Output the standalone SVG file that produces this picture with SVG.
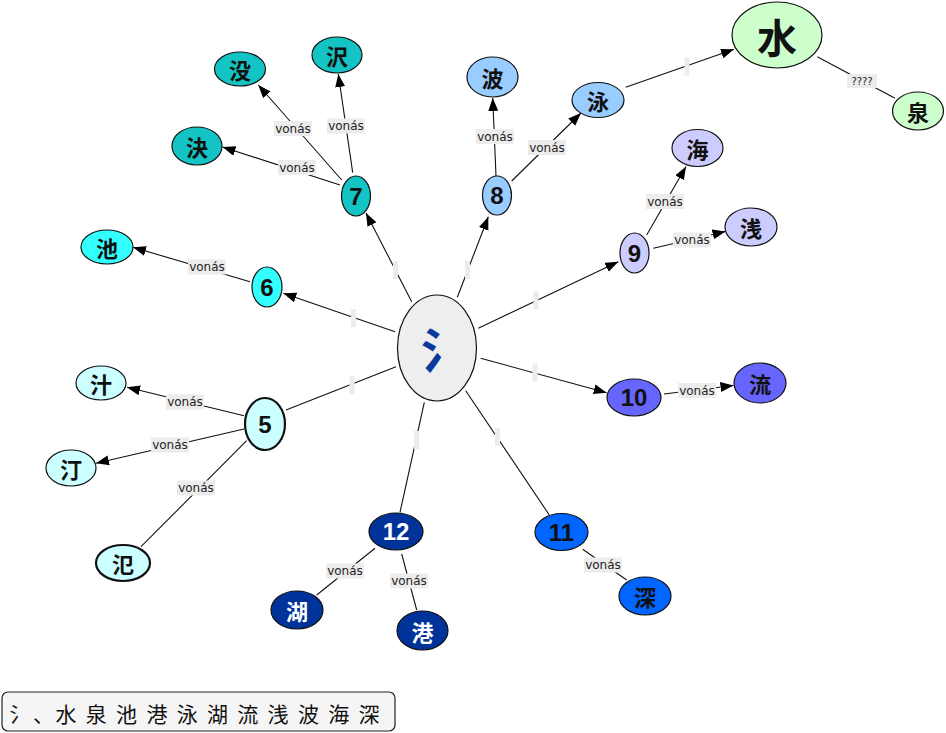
<svg xmlns="http://www.w3.org/2000/svg" width="946" height="733" viewBox="0 0 946 733">
<style>
.n ellipse{stroke:#111;stroke-width:1.2}
.thick ellipse{stroke-width:2.2}
.cjk{font-family:"Noto Sans CJK JP","Noto Sans CJK SC",sans-serif;font-weight:bold;font-size:22px;text-anchor:middle;dominant-baseline:central;fill:#111}
.num{font-family:"Liberation Sans",Arial,sans-serif;font-weight:bold;font-size:24px;text-anchor:middle;dominant-baseline:central;fill:#111}
.w{fill:#fff}
.e line{stroke:#111;stroke-width:1.1;fill:none}
.lb rect{fill:#ececec}
.lb text{font-family:"DejaVu Sans",Verdana,sans-serif;font-size:12px;fill:#222;text-anchor:middle;dominant-baseline:central}
.bar{fill:#e6e6e6}
</style>
<defs>
<marker id="a" markerUnits="userSpaceOnUse" markerWidth="14" markerHeight="12" refX="13" refY="5" orient="auto">
<path d="M0,0 L13,5 L0,10 z" fill="#000"/>
</marker>
</defs>
<g id="connectors" class="e">
<line x1="395" y1="331.7" x2="283.3" y2="293.3" marker-end="url(#a)"/>
<line x1="396" y1="366.7" x2="286" y2="410"/>
<line x1="411.7" y1="301.7" x2="366" y2="213" marker-end="url(#a)"/>
<line x1="457.3" y1="297.3" x2="488.3" y2="216.7" marker-end="url(#a)"/>
<line x1="478.3" y1="328.3" x2="618.3" y2="261.7" marker-end="url(#a)"/>
<line x1="480.7" y1="358.3" x2="606.7" y2="392.7" marker-end="url(#a)"/>
<line x1="424.3" y1="402.3" x2="400" y2="512.3"/>
<line x1="465.7" y1="390.7" x2="549.3" y2="515"/>
<line x1="250" y1="281.7" x2="133" y2="247.3" marker-end="url(#a)"/>
<line x1="244" y1="415.7" x2="127" y2="387.3" marker-end="url(#a)"/>
<line x1="244" y1="429" x2="96" y2="463.3" marker-end="url(#a)"/>
<line x1="246.7" y1="440.7" x2="141" y2="546.7"/>
<line x1="340" y1="185" x2="222.5" y2="147" marker-end="url(#a)"/>
<line x1="341.7" y1="180" x2="258.3" y2="85" marker-end="url(#a)"/>
<line x1="352.7" y1="172.7" x2="338.3" y2="74" marker-end="url(#a)"/>
<line x1="496" y1="176" x2="492.7" y2="98" marker-end="url(#a)"/>
<line x1="511.7" y1="181" x2="581" y2="113" marker-end="url(#a)"/>
<line x1="625.7" y1="87.3" x2="734" y2="49.3" marker-end="url(#a)"/>
<line x1="817.3" y1="56.7" x2="895" y2="98.3"/>
<line x1="646.7" y1="235" x2="686" y2="166.5" marker-end="url(#a)"/>
<line x1="653.3" y1="248.3" x2="725.5" y2="231.5" marker-end="url(#a)"/>
<line x1="664" y1="394" x2="733.5" y2="385.5" marker-end="url(#a)"/>
<line x1="375" y1="548.3" x2="316.7" y2="595"/>
<line x1="401.7" y1="554" x2="416.7" y2="610"/>
<line x1="582.7" y1="549.3" x2="626.7" y2="580"/>
<g class="lb">
<rect class="bar" x="351" y="309" width="5" height="18"/>
<rect class="bar" x="349.5" y="376.5" width="5" height="18"/>
<rect class="bar" x="393" y="261" width="5" height="18"/>
<rect class="bar" x="465" y="261" width="5" height="18"/>
<rect class="bar" x="533.5" y="291.5" width="5" height="18"/>
<rect class="bar" x="532.5" y="363.5" width="5" height="18"/>
<rect class="bar" x="414" y="431" width="5" height="18"/>
<rect class="bar" x="495" y="428" width="5" height="18"/>
<rect class="bar" x="684.5" y="57.5" width="5" height="18"/>
<rect x="274" y="121" width="38" height="15"/><text x="293" y="128.5">vonás</text>
<rect x="327" y="118.5" width="38" height="15"/><text x="346" y="126">vonás</text>
<rect x="278" y="160" width="38" height="15"/><text x="297" y="167.5">vonás</text>
<rect x="188" y="259.5" width="38" height="15"/><text x="207" y="267">vonás</text>
<rect x="166" y="394.5" width="38" height="15"/><text x="185" y="402">vonás</text>
<rect x="151" y="437.5" width="38" height="15"/><text x="170" y="445">vonás</text>
<rect x="177" y="480.5" width="38" height="15"/><text x="196" y="488">vonás</text>
<rect x="476" y="129" width="38" height="15"/><text x="495" y="136.5">vonás</text>
<rect x="528" y="140" width="38" height="15"/><text x="547" y="147.5">vonás</text>
<rect x="847" y="74" width="30" height="14"/><text x="862" y="81" style="font-size:10px">????</text>
<rect x="646" y="194" width="38" height="15"/><text x="665" y="201.5">vonás</text>
<rect x="673" y="232.5" width="38" height="15"/><text x="692" y="240">vonás</text>
<rect x="678" y="383" width="38" height="15"/><text x="697" y="390.5">vonás</text>
<rect x="326" y="563.5" width="38" height="15"/><text x="345" y="571">vonás</text>
<rect x="390" y="573.5" width="38" height="15"/><text x="409" y="581">vonás</text>
<rect x="584" y="557.5" width="38" height="15"/><text x="603" y="565">vonás</text>
</g>
</g>
<g id="center" class="n"><ellipse cx="437" cy="348" rx="39.5" ry="53" fill="#eeeeee"/><text class="cjk" x="445" y="347" style="font-size:48px;fill:#0a3a9c">氵</text></g>
<g id="n5" class="n thick"><ellipse cx="265" cy="424" rx="20" ry="26" fill="#ccffff"/><text class="num" x="265" y="424">5</text></g>
<g id="n6" class="n"><ellipse cx="267" cy="287" rx="15" ry="20" fill="#33ffff"/><text class="num" x="267" y="287">6</text></g>
<g id="n7" class="n"><ellipse cx="356" cy="196" rx="14.5" ry="20" fill="#14c4c4"/><text class="num" x="356" y="196">7</text></g>
<g id="n8" class="n"><ellipse cx="497" cy="195.5" rx="14.5" ry="19.5" fill="#99ccff"/><text class="num" x="497" y="195.5">8</text></g>
<g id="n9" class="n"><ellipse cx="634.5" cy="253" rx="14.5" ry="20" fill="#ccccff"/><text class="num" x="634.5" y="253">9</text></g>
<g id="n10" class="n"><ellipse cx="634" cy="397.5" rx="27" ry="18.5" fill="#6666ff"/><text class="num" x="634" y="397.5">10</text></g>
<g id="n11" class="n"><ellipse cx="561.5" cy="532" rx="26.5" ry="18.5" fill="#0066ff"/><text class="num" x="561.5" y="532">11</text></g>
<g id="n12" class="n"><ellipse cx="396" cy="531.5" rx="27" ry="18.5" fill="#003399"/><text class="num w" x="396" y="531.5">12</text></g>
<g id="shiru" class="n"><ellipse cx="101" cy="383" rx="25" ry="17" fill="#ccffff"/><text class="cjk" x="101" y="383">汁</text></g>
<g id="migiwa" class="n"><ellipse cx="71" cy="468" rx="25" ry="18" fill="#ccffff"/><text class="cjk" x="71" y="468">汀</text></g>
<g id="han" class="n thick"><ellipse cx="123" cy="563" rx="27" ry="18" fill="#ccffff"/><text class="cjk" x="123" y="563">氾</text></g>
<g id="ike" class="n"><ellipse cx="107" cy="247" rx="26" ry="17" fill="#33ffff"/><text class="cjk" x="107" y="247">池</text></g>
<g id="ketsu" class="n"><ellipse cx="197" cy="146" rx="25" ry="19" fill="#14c4c4"/><text class="cjk" x="197" y="146">決</text></g>
<g id="botsu" class="n"><ellipse cx="240" cy="69" rx="25.5" ry="17" fill="#14c4c4"/><text class="cjk" x="240" y="69">没</text></g>
<g id="sawa" class="n"><ellipse cx="337" cy="55" rx="25" ry="18" fill="#14c4c4"/><text class="cjk" x="337" y="55">沢</text></g>
<g id="nami" class="n"><ellipse cx="492.5" cy="77" rx="25.5" ry="20" fill="#99ccff"/><text class="cjk" x="492.5" y="77">波</text></g>
<g id="oyogu" class="n"><ellipse cx="598" cy="100" rx="26" ry="17.5" fill="#99ccff"/><text class="cjk" x="598" y="100">泳</text></g>
<g id="mizu" class="n"><ellipse cx="777" cy="35" rx="45" ry="33" fill="#ccffcc"/><text class="cjk" x="777" y="36" style="font-size:40px">水</text></g>
<g id="izumi" class="n"><ellipse cx="918" cy="111" rx="25.5" ry="19" fill="#ccffcc"/><text class="cjk" x="918" y="111">泉</text></g>
<g id="umi" class="n"><ellipse cx="697.5" cy="148" rx="25.5" ry="18.5" fill="#ccccff"/><text class="cjk" x="697.5" y="148">海</text></g>
<g id="asai" class="n"><ellipse cx="751" cy="227" rx="26" ry="19" fill="#ccccff"/><text class="cjk" x="751" y="227">浅</text></g>
<g id="nagare" class="n"><ellipse cx="760" cy="383" rx="26" ry="20" fill="#6666ff"/><text class="cjk" x="760" y="383">流</text></g>
<g id="fukai" class="n"><ellipse cx="645" cy="596" rx="26" ry="19" fill="#0066ff"/><text class="cjk" x="645" y="596">深</text></g>
<g id="mizuumi" class="n"><ellipse cx="297" cy="610" rx="26" ry="19" fill="#003399"/><text class="cjk w" x="297" y="610">湖</text></g>
<g id="minato" class="n"><ellipse cx="422.5" cy="630.5" rx="25.5" ry="19.5" fill="#003399"/><text class="cjk w" x="422.5" y="630.5">港</text></g>
<g id="legend"><rect x="2" y="692" width="393" height="39" rx="6" fill="#f5f5f5" stroke="#222" stroke-width="1.2"/><text x="9.5 33 55.5 85.8 116.1 146.4 176.7 207 237.3 267.6 297.9 328.2 358.5" y="712.5" style="font-family:'Noto Sans CJK JP','Noto Sans CJK SC',sans-serif;font-size:21px;fill:#111;dominant-baseline:central">氵、水泉池港泳湖流浅波海深</text></g>
</svg>
